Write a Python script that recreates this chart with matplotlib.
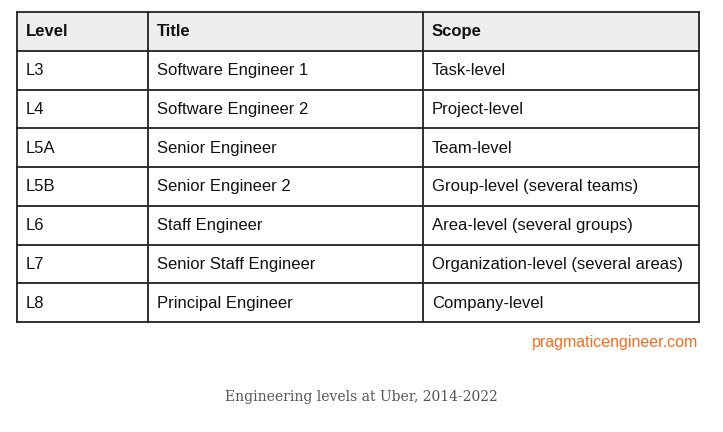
import matplotlib.pyplot as plt

header = ["Level", "Title", "Scope"]
levels = ["L3", "L4", "L5A", "L5B", "L6", "L7", "L8"]
titles = ["Software Engineer 1", "Software Engineer 2", "Senior Engineer",
          "Senior Engineer 2", "Staff Engineer", "Senior Staff Engineer",
          "Principal Engineer"]
scopes = ["Task-level", "Project-level", "Team-level",
          "Group-level (several teams)", "Area-level (several groups)",
          "Organization-level (several areas)", "Company-level"]
source = "pragmaticengineer.com"
caption = "Engineering levels at Uber, 2014-2022"

# layout in pixels
col_edges = [17, 148, 423, 699]
top, bottom = 12, 322
pad = 9

fig = plt.figure(figsize=(7.23, 4.32), dpi=100)
ax = fig.add_axes([0, 0, 1, 1])
ax.set_xlim(0, 723)
ax.set_ylim(432, 0)
ax.axis("off")

rows = [header] + [list(r) for r in zip(levels, titles, scopes)]
n = len(rows)
row_h = (bottom - top) / n
row_edges = [top + i * row_h for i in range(n + 1)]

# header background
ax.fill_between([col_edges[0], col_edges[-1]], row_edges[0], row_edges[1],
                color="#eeeeee", lw=0, zorder=0)

line_kw = dict(color="#222222", lw=1.3, zorder=2, solid_capstyle="projecting")
for y in row_edges:
    ax.plot([col_edges[0], col_edges[-1]], [y, y], **line_kw)
for x in col_edges:
    ax.plot([x, x], [top, bottom], **line_kw)

for i, row in enumerate(rows):
    yc = (row_edges[i] + row_edges[i + 1]) / 2
    for j, txt in enumerate(row):
        ax.text(col_edges[j] + pad, yc + 0.5, txt, ha="left", va="center",
                fontsize=12, family="Liberation Sans",
                fontweight="bold" if i == 0 else "normal", color="#111111")

ax.text(col_edges[-1] - 1, 343, source, ha="right", va="center",
        fontsize=11.5, family="Liberation Sans", color="#f26d21")
ax.text(361, 397, caption, ha="center", va="center",
        fontsize=10, family="DejaVu Serif", color="#555555")

fig.savefig("out.png", dpi=100)
